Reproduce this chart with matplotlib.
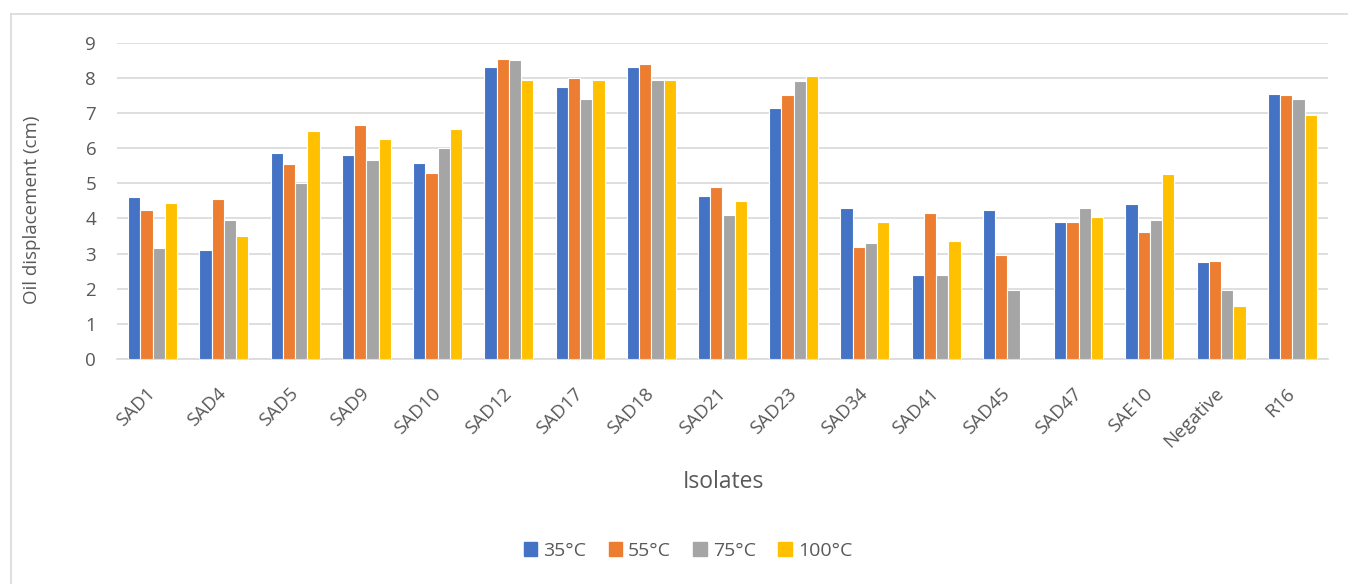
import matplotlib
matplotlib.use("Agg")
import matplotlib.pyplot as plt
import numpy as np
from matplotlib.lines import Line2D

categories = ["SAD1", "SAD4", "SAD5", "SAD9", "SAD10", "SAD12", "SAD17", "SAD18",
              "SAD21", "SAD23", "SAD34", "SAD41", "SAD45", "SAD47", "SAE10",
              "Negative", "R16"]
series_names = ["35°C", "55°C", "75°C", "100°C"]
t35 = [4.6, 3.1, 5.85, 5.8, 5.57, 8.3, 7.75, 8.3, 4.65, 7.15, 4.3, 2.4, 4.25, 3.9, 4.4, 2.75, 7.55]
t55 = [4.25, 4.55, 5.55, 6.65, 5.3, 8.55, 8.0, 8.4, 4.9, 7.5, 3.2, 4.15, 2.95, 3.9, 3.6, 2.8, 7.5]
t75 = [3.15, 3.95, 5.0, 5.65, 6.0, 8.5, 7.4, 7.95, 4.1, 7.9, 3.3, 2.4, 1.95, 4.3, 3.95, 1.95, 7.4]
t100 = [4.45, 3.5, 6.5, 6.25, 6.55, 7.95, 7.95, 7.95, 4.5, 8.05, 3.9, 3.35, 0.0, 4.05, 5.25, 1.5, 6.95]
colors = ["#4472C4", "#ED7D31", "#A5A5A5", "#FFC000"]

plt.rcParams['font.family'] = ['Open Sans', 'DejaVu Sans']
txt = "#595959"

W, H = 1348, 584
fig = plt.figure(figsize=(W / 100, H / 100), dpi=100)
ax = fig.add_axes([117 / W, 1 - 359 / H, (1328 - 117) / W, (359 - 42.7) / H])

x = np.arange(len(categories))
bw = 0.172
data = [t35, t55, t75, t100]
for i, (vals, c, name) in enumerate(zip(data, colors, series_names)):
    ax.bar(x + (i - 1.5) * bw, vals, width=bw, color=c, edgecolor="white",
           linewidth=0.8, label=name, zorder=3)

ax.set_xlim(-0.5, len(categories) - 0.5)
ax.set_ylim(0, 9)
ax.set_yticks(range(0, 10))
ax.yaxis.grid(True, color="#d9d9d9", linewidth=1.2, zorder=0)
ax.set_axisbelow(True)
for s in ["top", "right", "left"]:
    ax.spines[s].set_visible(False)
ax.spines["bottom"].set_color("#d9d9d9")
ax.spines["bottom"].set_linewidth(1.2)
ax.tick_params(axis="both", length=0, colors=txt, labelsize=13.5)
ax.tick_params(axis="y", pad=15)
ax.set_xticks(x)
ax.set_xticklabels(categories, rotation=45, ha="right", va="center",
                   rotation_mode="anchor")
ax.tick_params(axis="x", pad=23)

fig.text(32 / W, 1 - 210 / H, "Oil displacement (cm)", rotation=90, ha="center",
         va="center", color=txt, fontsize=13.5)
fig.text(723 / W, 1 - 482 / H, "Isolates", ha="center", va="center", color=txt,
         fontsize=16.5)

handles = [plt.Rectangle((0, 0), 1, 1, color=c) for c in colors]
fig.legend(handles, series_names, loc="center", bbox_to_anchor=(688 / W, 1 - 551 / H),
           ncol=4, frameon=False, fontsize=14, labelcolor=txt, handlelength=0.7,
           handleheight=0.75, handletextpad=0.3, columnspacing=1.15)

fig.add_artist(Line2D([11 / W, 11 / W], [0, 1 - 14 / H], transform=fig.transFigure,
                      color="#d9d9d9", linewidth=1.2))
fig.add_artist(Line2D([11 / W, 1], [1 - 14 / H, 1 - 14 / H], transform=fig.transFigure,
                      color="#d9d9d9", linewidth=1.2))

fig.savefig("out.png", dpi=100, facecolor="white")
